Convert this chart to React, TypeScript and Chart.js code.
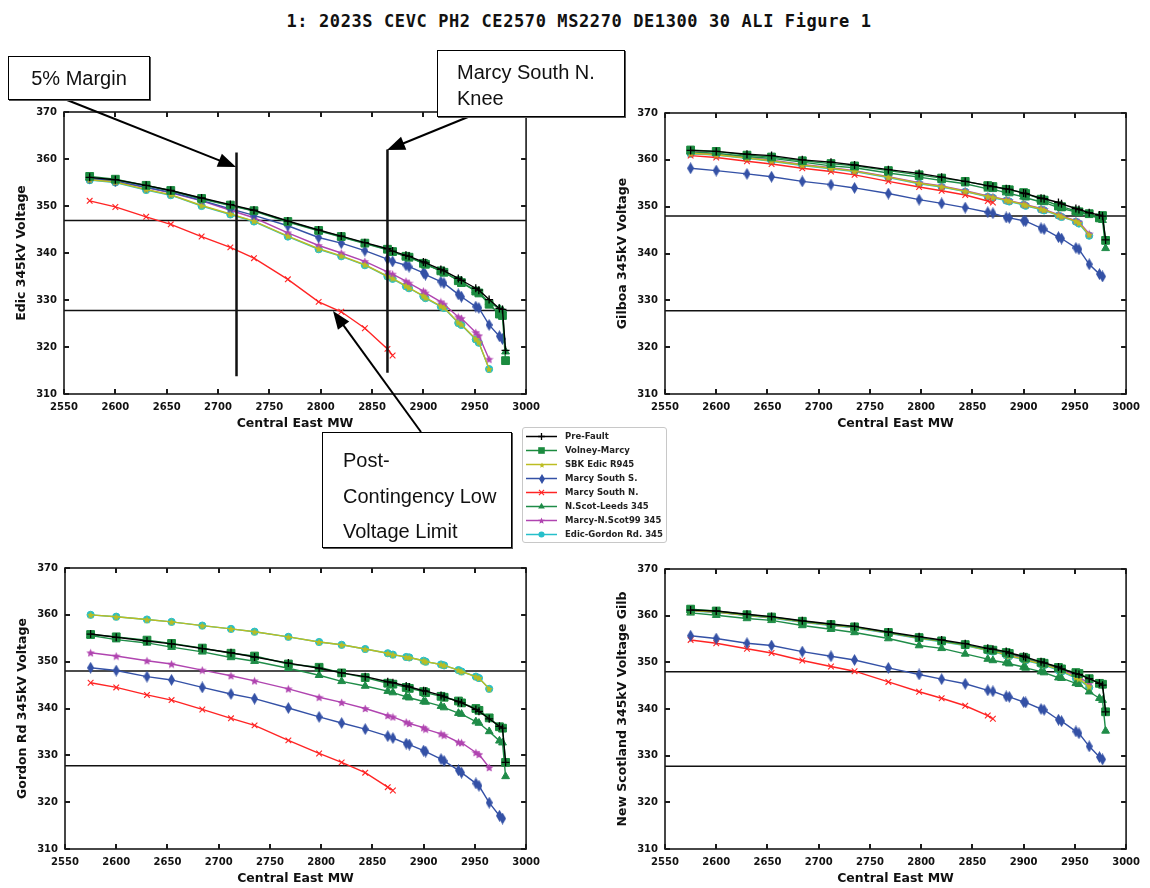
import React, { useEffect, useRef } from 'react';
import { Chart, registerables } from 'chart.js';

Chart.register(...registerables);

// ---------------- DATA ----------------
const TITLE = '1: 2023S CEVC PH2 CE2570 MS2270 DE1300 30 ALI Figure 1';
const X_TITLE = 'Central East MW';
const X_MIN = 2550;
const X_MAX = 3000;
const X_STEP = 50;
const Y_MIN = 310;
const Y_MAX = 370;
const Y_STEP = 10;

// Central East MW transfer levels (shared x values of every series)
const CE_MW = [2575, 2600, 2630, 2654, 2684, 2712, 2735, 2768, 2798, 2820, 2843, 2865, 2870, 2883, 2886, 2900, 2902, 2917, 2920, 2934, 2937, 2951, 2954, 2964, 2974, 2977, 2980];

const SERIES_NAMES = ['Pre-Fault', 'Volney-Marcy', 'SBK Edic R945', 'Marcy South S.', 'Marcy South N.', 'N.Scot-Leeds 345', 'Marcy-N.Scot99 345', 'Edic-Gordon Rd. 345'];

// Edic 345kV
const edicPreFault = [356.1, 355.6, 354.4, 353.3, 351.7, 350.3, 349.1, 346.8, 344.9, 343.6, 342.2, 340.9, 340.4, 339.5, 339.3, 338.1, 337.9, 336.5, 336.2, 334.6, 334.2, 332.5, 332.1, 330.1, 328.2, 328.0, 319.3];
const edicVolney = [356.3, 355.7, 354.4, 353.3, 351.6, 350.2, 349.0, 346.7, 344.8, 343.5, 342.1, 340.8, 340.3, 339.3, 339.1, 337.8, 337.6, 336.2, 335.9, 334.1, 333.7, 331.9, 331.5, 329.1, 327.0, 326.7, 317.1];
const edicSbk = [355.6, 355.1, 353.5, 352.4, 350.1, 348.3, 346.8, 343.6, 340.9, 339.4, 337.5, 335.1, 334.6, 333.0, 332.6, 330.9, 330.5, 328.7, 328.4, 325.2, 324.8, 321.7, 321.0, 315.3];
const edicMsS = [355.9, 355.3, 354.0, 352.9, 351.2, 349.4, 348.0, 345.8, 343.3, 342.1, 340.5, 338.7, 338.2, 337.4, 337.1, 335.8, 335.4, 333.9, 333.6, 331.2, 330.7, 328.6, 328.3, 324.7, 322.3, 321.7];
const edicMsN = [351.1, 349.8, 347.7, 346.1, 343.5, 341.2, 338.9, 334.4, 329.6, 327.5, 324.0, 319.6, 318.2];
const edicNsl = [356.0, 355.5, 354.3, 353.2, 351.5, 350.1, 348.9, 346.6, 344.7, 343.4, 342.0, 340.7, 340.2, 339.3, 339.1, 337.8, 337.6, 336.2, 335.9, 334.2, 333.8, 332.0, 331.6, 329.5, 328.2, 327.8, 319.0];
const edicMns = [355.8, 355.2, 353.9, 352.8, 351.1, 349.1, 347.5, 344.3, 341.6, 340.0, 338.2, 336.0, 335.5, 334.0, 333.6, 331.9, 331.5, 329.6, 329.1, 326.4, 326.1, 323.1, 322.4, 317.4];
const edicEgr = [355.5, 355.0, 353.4, 352.3, 350.0, 348.2, 346.7, 343.5, 340.8, 339.3, 337.4, 335.0, 334.5, 332.9, 332.5, 330.8, 330.4, 328.6, 328.3, 325.1, 324.7, 321.6, 320.9, 315.3];

// Gilboa 345kV
const gilPreFault = [362.0, 361.8, 361.2, 360.9, 360.0, 359.5, 358.9, 357.9, 357.1, 356.3, 355.4, 354.5, 354.3, 353.8, 353.7, 352.9, 352.8, 351.8, 351.7, 350.9, 350.6, 349.6, 349.4, 348.7, 348.2, 348.0, 342.9];
const gilVolney = [362.1, 361.8, 361.0, 360.6, 359.8, 359.2, 358.7, 357.7, 356.8, 356.1, 355.4, 354.5, 354.3, 353.7, 353.6, 353.0, 352.8, 351.6, 351.4, 350.2, 350.0, 349.1, 348.9, 348.5, 347.6, 348.1, 342.8];
const gilSbk = [361.4, 361.1, 360.4, 359.8, 358.9, 358.2, 357.6, 356.3, 355.0, 354.3, 353.3, 352.2, 352.0, 351.4, 351.2, 350.5, 350.3, 349.5, 349.3, 348.2, 347.9, 346.9, 346.5, 344.0];
const gilMsS = [358.2, 357.7, 357.0, 356.4, 355.4, 354.7, 354.0, 352.8, 351.5, 350.7, 349.8, 348.8, 348.6, 347.7, 347.6, 347.0, 346.9, 345.4, 345.2, 343.5, 343.2, 341.2, 340.9, 337.7, 335.6, 335.1];
const gilMsN = [360.9, 360.5, 359.7, 359.1, 358.2, 357.5, 356.8, 355.4, 354.2, 353.4, 352.5, 351.2, 350.9];
const gilNsl = [361.7, 361.4, 360.7, 360.3, 359.5, 358.7, 358.3, 357.2, 356.3, 355.6, 354.9, 353.8, 353.7, 353.0, 352.8, 352.1, 351.9, 351.0, 350.9, 349.8, 349.6, 348.9, 348.7, 348.3, 347.4, 347.1, 341.1];
const gilMns = [361.5, 361.2, 360.5, 359.9, 359.0, 358.3, 357.7, 356.4, 355.1, 354.4, 353.4, 352.3, 352.1, 351.5, 351.3, 350.6, 350.4, 349.6, 349.4, 348.3, 348.0, 347.0, 346.7, 344.2];
const gilEgr = [361.3, 361.0, 360.3, 359.7, 358.8, 358.1, 357.5, 356.2, 354.9, 354.2, 353.2, 352.1, 351.9, 351.3, 351.1, 350.4, 350.2, 349.4, 349.2, 348.1, 347.8, 346.8, 346.4, 343.8];

// Gordon Rd 345kV
const gorPreFault = [355.9, 355.2, 354.4, 353.8, 352.8, 351.9, 351.0, 349.7, 348.6, 347.6, 346.8, 345.7, 345.5, 344.8, 344.6, 343.8, 343.7, 342.8, 342.5, 341.5, 341.2, 339.8, 339.4, 337.8, 336.2, 335.8, 328.5];
const gorVolney = [355.8, 355.3, 354.6, 353.9, 352.9, 351.8, 351.2, 349.5, 348.8, 347.6, 346.6, 345.4, 345.2, 344.5, 344.3, 343.6, 343.4, 342.6, 342.4, 341.6, 341.2, 340.0, 339.6, 338.0, 336.1, 335.8, 328.5];
const gorSbk = [360.0, 359.6, 359.0, 358.5, 357.7, 357.0, 356.4, 355.3, 354.2, 353.6, 352.7, 351.8, 351.5, 351.0, 350.9, 350.2, 350.0, 349.4, 349.2, 348.2, 347.9, 346.8, 346.5, 344.2];
const gorMsS = [348.7, 348.1, 346.8, 346.1, 344.5, 343.1, 342.1, 340.1, 338.2, 336.9, 335.6, 334.1, 333.7, 332.5, 332.3, 331.0, 330.8, 329.2, 328.8, 326.8, 326.3, 324.0, 323.5, 319.9, 317.1, 316.5];
const gorMsN = [345.5, 344.5, 342.9, 341.8, 339.8, 337.9, 336.4, 333.2, 330.4, 328.5, 326.3, 323.2, 322.5];
const gorNsl = [355.6, 354.7, 354.0, 353.1, 352.1, 350.9, 350.1, 348.6, 347.1, 345.8, 344.8, 343.7, 343.4, 342.5, 342.3, 341.5, 341.4, 340.5, 340.2, 339.0, 338.8, 337.2, 336.9, 335.1, 333.1, 332.7, 325.5];
const gorMns = [351.9, 351.2, 350.2, 349.5, 348.2, 347.0, 345.9, 344.2, 342.4, 341.3, 340.0, 338.5, 338.2, 337.1, 336.8, 335.9, 335.6, 334.6, 334.3, 332.8, 332.7, 330.6, 330.2, 327.4];
const gorEgr = [360.0, 359.6, 359.0, 358.5, 357.7, 357.0, 356.4, 355.3, 354.2, 353.6, 352.7, 351.8, 351.5, 351.0, 350.9, 350.2, 350.0, 349.4, 349.2, 348.2, 347.9, 346.8, 346.5, 344.2];

// New Scotland 345kV
const nsPreFault = [361.2, 361.0, 360.3, 359.8, 358.9, 358.2, 357.7, 356.5, 355.5, 354.8, 354.0, 353.0, 352.8, 352.3, 352.0, 351.3, 351.1, 350.1, 349.9, 349.0, 348.6, 347.6, 347.4, 346.5, 345.5, 345.1, 339.4];
const nsVolney = [361.4, 361.0, 360.2, 359.7, 358.8, 358.1, 357.6, 356.4, 355.3, 354.6, 353.8, 352.8, 352.6, 352.1, 351.9, 351.1, 350.9, 350.0, 349.8, 348.9, 348.6, 347.8, 347.6, 346.5, 345.5, 345.3, 339.4];
const nsSbk = [361.1, 360.8, 360.1, 359.6, 358.7, 358.0, 357.5, 356.3, 355.2, 354.5, 353.7, 352.6, 352.4, 351.6, 351.4, 350.7, 350.5, 349.7, 349.5, 348.5, 348.2, 346.8, 346.5, 344.8];
const nsMsS = [355.7, 355.1, 354.1, 353.6, 352.3, 351.3, 350.5, 348.8, 347.4, 346.4, 345.4, 344.0, 343.8, 342.7, 342.6, 341.5, 341.4, 340.0, 339.8, 337.7, 337.4, 335.2, 334.8, 332.0, 329.7, 329.2];
const nsMsN = [354.8, 354.1, 352.9, 352.0, 350.4, 349.1, 348.1, 345.8, 343.7, 342.3, 340.7, 338.6, 337.9];
const nsNsl = [360.6, 360.1, 359.4, 359.0, 357.9, 357.1, 356.4, 355.1, 353.6, 353.0, 351.8, 350.7, 350.4, 349.9, 349.7, 349.0, 348.8, 348.0, 347.8, 346.7, 346.6, 345.5, 345.3, 343.7, 342.3, 341.9, 335.3];
const nsMns = [361.1, 360.8, 360.1, 359.6, 358.7, 358.0, 357.5, 356.3, 355.2, 354.6, 353.8, 352.7, 352.5, 351.8, 351.6, 350.9, 350.7, 349.9, 349.7, 348.7, 348.4, 347.2, 346.9, 345.4];
const nsEgr = [361.0, 360.7, 360.0, 359.5, 358.6, 357.9, 357.4, 356.2, 355.1, 354.4, 353.6, 352.5, 352.3, 351.5, 351.3, 350.6, 350.4, 349.6, 349.4, 348.3, 348.0, 346.6, 346.3, 344.6];

// Reference voltages
const EDIC_MARGIN_KV = 346.9;
const MARGIN_KV = 348.0;
const LOW_LIMIT_KV = 327.75;

// Annotation vertical markers on the Edic plot (MW, kV from, kV to)
const MARGIN_MW = 2718;
const MARGIN_SPAN = [361.4, 313.8];
const KNEE_MW = 2865;
const KNEE_SPAN = [362.0, 314.5];

// ---------------- STYLES ----------------
type MarkerKind = 'cross' | 'rect' | 'star5' | 'thinDiamond' | 'crossRot' | 'triangle' | 'circle';
interface SeriesStyle { color: string; marker: MarkerKind; radius: number; pbw: number; size?: [number, number]; }

const STYLES: SeriesStyle[] = [
  { color: '#000000', marker: 'cross', radius: 4, pbw: 1.3 },
  { color: '#1b8b3f', marker: 'rect', radius: 5.5, pbw: 1 },
  { color: '#bcbd22', marker: 'star5', radius: 4, pbw: 1, size: [8, 8] },
  { color: '#3451a6', marker: 'thinDiamond', radius: 4, pbw: 1, size: [7, 12] },
  { color: '#ff2424', marker: 'crossRot', radius: 4, pbw: 1.1 },
  { color: '#1f8c48', marker: 'triangle', radius: 4.5, pbw: 1 },
  { color: '#b044b0', marker: 'star5', radius: 4, pbw: 1, size: [9, 9] },
  { color: '#26bfca', marker: 'circle', radius: 3.6, pbw: 1 },
];

const markerCache: Record<string, HTMLCanvasElement> = {};
function markerImage(kind: MarkerKind, color: string, w: number, h: number): HTMLCanvasElement {
  const key = kind + color + w + 'x' + h;
  if (markerCache[key]) return markerCache[key];
  const c = document.createElement('canvas');
  c.width = w; c.height = h;
  const g = c.getContext('2d')!;
  g.fillStyle = color;
  g.beginPath();
  if (kind === 'thinDiamond') {
    g.moveTo(w / 2, 0); g.lineTo(w, h / 2); g.lineTo(w / 2, h); g.lineTo(0, h / 2);
  } else {
    const cx = w / 2, cy = h / 2 + 0.4, R = Math.min(w, h) / 2, r = R * 0.45;
    for (let i = 0; i < 10; i++) {
      const a = -Math.PI / 2 + (i * Math.PI) / 5;
      const rr = i % 2 === 0 ? R : r;
      const px = cx + rr * Math.cos(a), py = cy + rr * Math.sin(a);
      if (i === 0) g.moveTo(px, py); else g.lineTo(px, py);
    }
  }
  g.closePath();
  g.fill();
  markerCache[key] = c;
  return c;
}

function pointStyleOf(s: SeriesStyle): any {
  if (s.marker === 'star5' || s.marker === 'thinDiamond') {
    return markerImage(s.marker, s.color, s.size![0], s.size![1]);
  }
  return s.marker;
}

// ---------------- LAYOUT ----------------
const Y_AXIS_W = 60;
const X_AXIS_H = 37;
const PAD_TOP = 10;
const PAD_RIGHT = 20;

interface PanelCfg {
  yTitle: string;
  series: number[][];
  margin: number;
  area: { left: number; top: number; right: number; bottom: number };
  knees?: boolean;
}

const PANELS: PanelCfg[] = [
  { yTitle: 'Edic 345kV Voltage', series: [edicPreFault, edicVolney, edicSbk, edicMsS, edicMsN, edicNsl, edicMns, edicEgr], margin: EDIC_MARGIN_KV, area: { left: 64, top: 109, right: 527, bottom: 394 }, knees: true },
  { yTitle: 'Gilboa 345kV Voltage', series: [gilPreFault, gilVolney, gilSbk, gilMsS, gilMsN, gilNsl, gilMns, gilEgr], margin: MARGIN_KV, area: { left: 665, top: 110, right: 1127, bottom: 394 } },
  { yTitle: 'Gordon Rd 345kV Voltage', series: [gorPreFault, gorVolney, gorSbk, gorMsS, gorMsN, gorNsl, gorMns, gorEgr], margin: MARGIN_KV, area: { left: 65, top: 565, right: 527, bottom: 849 } },
  { yTitle: 'New Scotland 345kV Voltage Gilb', series: [nsPreFault, nsVolney, nsSbk, nsMsS, nsMsN, nsNsl, nsMns, nsEgr], margin: MARGIN_KV, area: { left: 665, top: 566, right: 1127, bottom: 849 } },
];

const TICK_FONT = { family: "'DejaVu Sans', sans-serif", size: 10, weight: 'bold' as const };
const AXIS_TITLE_FONT = { family: "'DejaVu Sans', sans-serif", size: 12.5, weight: 'bold' as const, lineHeight: 1.2 };
const TEXT_COLOR = '#111111';

const framePlugin = {
  id: 'frameTicks',
  afterDatasetsDraw(chart: any) {
    const { ctx, chartArea } = chart;
    const { left, right, top, bottom } = chartArea;
    const xs = chart.scales.x, ys = chart.scales.y;
    ctx.save();
    ctx.strokeStyle = '#1a1a1a';
    ctx.lineWidth = 1.6;
    ctx.strokeRect(left, top, right - left, bottom - top);
    ctx.lineWidth = 2;
    ctx.beginPath();
    const L = 5;
    xs.ticks.forEach((t: any) => {
      const px = Math.round(xs.getPixelForValue(t.value));
      ctx.moveTo(px, bottom); ctx.lineTo(px, bottom - L);
      ctx.moveTo(px, top); ctx.lineTo(px, top + L);
    });
    ys.ticks.forEach((t: any) => {
      const py = Math.round(ys.getPixelForValue(t.value));
      ctx.moveTo(left, py); ctx.lineTo(left + L, py);
      ctx.moveTo(right, py); ctx.lineTo(right - L, py);
    });
    ctx.stroke();
    ctx.restore();
  },
};

function buildDatasets(cfg: PanelCfg) {
  const ds: any[] = cfg.series.map((vals, i) => {
    const s = STYLES[i];
    return {
      label: SERIES_NAMES[i],
      data: vals.map((v, k) => ({ x: CE_MW[k], y: v })),
      borderColor: s.color,
      backgroundColor: s.color,
      borderWidth: 1.4,
      pointStyle: pointStyleOf(s),
      pointRadius: s.radius,
      pointBorderWidth: s.pbw,
      pointBackgroundColor: s.color,
      pointBorderColor: s.color,
      tension: 0,
    };
  });
  const refLine = (pts: { x: number; y: number }[], w: number) => ({
    label: '',
    data: pts,
    borderColor: '#111111',
    borderWidth: w,
    pointRadius: 0,
    tension: 0,
  });
  ds.push(refLine([{ x: X_MIN, y: cfg.margin }, { x: X_MAX, y: cfg.margin }], 1.5));
  ds.push(refLine([{ x: X_MIN, y: LOW_LIMIT_KV }, { x: X_MAX, y: LOW_LIMIT_KV }], 1.5));
  if (cfg.knees) {
    ds.unshift(refLine([{ x: KNEE_MW, y: KNEE_SPAN[0] }, { x: KNEE_MW, y: KNEE_SPAN[1] }], 2.5));
    ds.unshift(refLine([{ x: MARGIN_MW, y: MARGIN_SPAN[0] }, { x: MARGIN_MW, y: MARGIN_SPAN[1] }], 2.5));
  }
  return ds;
}

function Panel({ cfg }: { cfg: PanelCfg }) {
  const ref = useRef<HTMLCanvasElement>(null);
  const cLeft = cfg.area.left - Y_AXIS_W;
  const cTop = cfg.area.top - PAD_TOP;
  const W = cfg.area.right - cLeft + PAD_RIGHT;
  const H = cfg.area.bottom - cTop + X_AXIS_H;
  useEffect(() => {
    const chart = new Chart(ref.current!, {
      type: 'line',
      data: { datasets: buildDatasets(cfg) },
      options: {
        responsive: false,
        animation: false,
        devicePixelRatio: 1,
        layout: { padding: { top: PAD_TOP, right: PAD_RIGHT, left: 0, bottom: 0 } },
        plugins: { legend: { display: false }, tooltip: { enabled: false } },
        scales: {
          x: {
            type: 'linear',
            min: X_MIN,
            max: X_MAX,
            grid: { display: false, drawTicks: false },
            border: { display: false },
            ticks: { stepSize: X_STEP, autoSkip: false, maxRotation: 0, padding: 7, font: TICK_FONT, color: TEXT_COLOR, callback: (v: any) => String(v) },
            title: { display: true, text: X_TITLE, font: AXIS_TITLE_FONT, color: TEXT_COLOR, padding: { top: 0, bottom: 0 } },
            afterFit: (s: any) => { s.height = X_AXIS_H; },
          },
          y: {
            type: 'linear',
            min: Y_MIN,
            max: Y_MAX,
            grid: { display: false, drawTicks: false },
            border: { display: false },
            ticks: { stepSize: Y_STEP, padding: 7, font: TICK_FONT, color: TEXT_COLOR, callback: (v: any) => String(v) },
            title: { display: true, text: cfg.yTitle, font: AXIS_TITLE_FONT, color: TEXT_COLOR, padding: { top: 10.5, bottom: 0 } },
            afterFit: (s: any) => { s.width = Y_AXIS_W; },
          },
        },
      } as any,
      plugins: [framePlugin],
    });
    return () => chart.destroy();
  }, []);
  return <canvas ref={ref} width={W} height={H} style={{ position: 'absolute', left: cLeft, top: cTop, width: W, height: H, display: 'block' }} />;
}

function drawLegendMarker(g: CanvasRenderingContext2D, s: SeriesStyle, x: number, y: number) {
  g.fillStyle = s.color;
  g.strokeStyle = s.color;
  const r = s.radius * 0.85;
  g.lineWidth = s.pbw;
  g.beginPath();
  switch (s.marker) {
    case 'cross':
      g.moveTo(x - r, y); g.lineTo(x + r, y); g.moveTo(x, y - r); g.lineTo(x, y + r); g.stroke(); break;
    case 'crossRot': {
      const d = r * 0.75;
      g.moveTo(x - d, y - d); g.lineTo(x + d, y + d); g.moveTo(x + d, y - d); g.lineTo(x - d, y + d); g.stroke(); break;
    }
    case 'rect': {
      const d = r * Math.SQRT1_2;
      g.rect(x - d, y - d, 2 * d, 2 * d); g.fill(); break;
    }
    case 'triangle': {
      g.moveTo(x, y - r); g.lineTo(x + r * 0.87, y + r * 0.5); g.lineTo(x - r * 0.87, y + r * 0.5); g.closePath(); g.fill(); break;
    }
    case 'circle':
      g.arc(x, y, r, 0, Math.PI * 2); g.fill(); break;
    default: {
      const img = markerImage(s.marker, s.color, Math.round(s.size![0] * 0.8), Math.round(s.size![1] * 0.8));
      g.drawImage(img, Math.round(x - img.width / 2), Math.round(y - img.height / 2));
    }
  }
}

function LegendSwatch({ s }: { s: SeriesStyle }) {
  const ref = useRef<HTMLCanvasElement>(null);
  useEffect(() => {
    const g = ref.current!.getContext('2d')!;
    g.clearRect(0, 0, 32, 13);
    g.strokeStyle = s.color;
    g.lineWidth = 1.5;
    g.beginPath();
    g.moveTo(0, 6.5); g.lineTo(31, 6.5); g.stroke();
    drawLegendMarker(g, s, 15.5, 6.5);
  }, []);
  return <canvas ref={ref} width={32} height={13} style={{ display: 'block' }} />;
}

function Legend() {
  return (
    <div style={{ position: 'absolute', left: 522, top: 427, width: 145, height: 116, boxSizing: 'border-box', border: '1px solid #c8c8c8', borderRadius: 3, background: '#fff', paddingTop: 1, zIndex: 3 }}>
      {SERIES_NAMES.map((name, i) => (
        <div key={name} style={{ display: 'flex', alignItems: 'center', height: 14, marginLeft: 3 }}>
          <LegendSwatch s={STYLES[i]} />
          <span style={{ marginLeft: 7, font: "bold 8.5px 'DejaVu Sans', sans-serif", color: '#222', whiteSpace: 'nowrap' }}>{name}</span>
        </div>
      ))}
    </div>
  );
}

const ARROWS: [number, number, number, number][] = [
  [67, 100, 236, 167],
  [468, 117, 387, 150],
  [421, 432, 333, 311],
];

function Arrow({ a }: { a: [number, number, number, number] }) {
  const [x1, y1, x2, y2] = a;
  const dx = x2 - x1, dy = y2 - y1, len = Math.hypot(dx, dy);
  const ux = dx / len, uy = dy / len;
  const L = 18, Wd = 7;
  const bx = x2 - ux * L, by = y2 - uy * L;
  const pts = `${x2},${y2} ${bx - uy * Wd},${by + ux * Wd} ${bx + uy * Wd},${by - ux * Wd}`;
  return (
    <g>
      <line x1={x1} y1={y1} x2={bx + ux * 2} y2={by + uy * 2} stroke="#000" strokeWidth={2} />
      <polygon points={pts} fill="#000" />
    </g>
  );
}

const boxStyle: React.CSSProperties = {
  position: 'absolute',
  boxSizing: 'border-box',
  border: '1.5px solid #000',
  boxShadow: '1px 1px 0 #555',
  background: '#fff',
  fontFamily: "'Liberation Sans', Arial, sans-serif",
  fontSize: 20,
  color: '#111',
  zIndex: 4,
};

export default function App() {
  return (
    <div style={{ position: 'absolute', left: 0, top: 0, width: 1150, height: 888, overflow: 'hidden', background: '#fff' }}>
      <div style={{ position: 'absolute', left: 4, top: 10, width: 1150, textAlign: 'center', fontFamily: "'DejaVu Sans Mono', monospace", fontWeight: 'bold', fontSize: 17, letterSpacing: 0.6, color: '#111', whiteSpace: 'pre', lineHeight: '22px' }}>
        {TITLE}
      </div>
      {PANELS.map((p) => (
        <Panel key={p.yTitle} cfg={p} />
      ))}
      <svg width={1150} height={888} style={{ position: 'absolute', left: 0, top: 0, zIndex: 2, pointerEvents: 'none' }}>
        {ARROWS.map((a, i) => (
          <Arrow key={i} a={a} />
        ))}
      </svg>
      <Legend />
      <div style={{ ...boxStyle, left: 8, top: 56, width: 142, height: 44, display: 'flex', alignItems: 'center', justifyContent: 'center' }}>5% Margin</div>
      <div style={{ ...boxStyle, left: 437, top: 50, width: 188, height: 67, paddingLeft: 19, paddingTop: 8, lineHeight: '26px' }}>
        Marcy South N.<br />Knee
      </div>
      <div style={{ ...boxStyle, left: 322, top: 432, width: 190, height: 116, paddingLeft: 20, paddingTop: 10, lineHeight: '35.5px' }}>
        Post-<br />Contingency Low<br />Voltage Limit
      </div>
    </div>
  );
}
